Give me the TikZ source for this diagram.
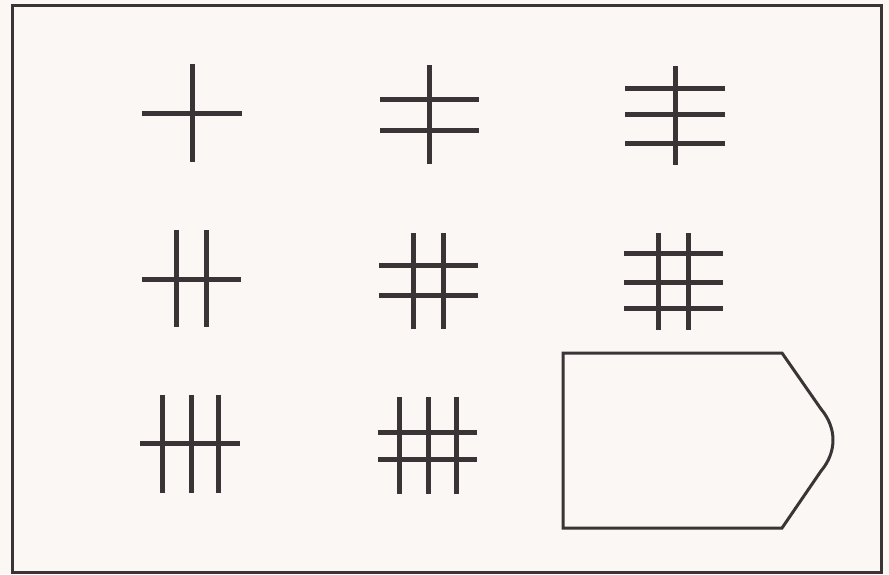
\documentclass[tikz,border=0pt]{standalone}
\begin{document}
\begin{tikzpicture}[x=1pt,y=-1pt,
  ink/.style={draw=inkc},
  bar/.style={ink,line width=5pt},
  frame/.style={ink,line width=3pt},
  outline/.style={ink,line width=3pt,line join=miter}]
\definecolor{inkc}{HTML}{3A3436}
\definecolor{paper}{HTML}{FBF7F4}
\fill[paper] (0,0) rectangle (889,574);
\useasboundingbox (0,0) rectangle (889,574);
\draw[frame] (12,5) rectangle (881,572);
% 1
\draw[bar] (192,64) -- (192,162);
\draw[bar] (142,113) -- (242,113);
% 2
\draw[bar] (429,65) -- (429,164);
\foreach \y in {99,130} \draw[bar] (380,\y) -- (479,\y);
% 3
\draw[bar] (675,66) -- (675,165);
\foreach \y in {88,114,143} \draw[bar] (625,\y) -- (725,\y);
% 4
\foreach \x in {176,206} \draw[bar] (\x,230) -- (\x,327);
\draw[bar] (142,279) -- (241,279);
% 5
\foreach \x in {413,443} \draw[bar] (\x,233) -- (\x,329);
\foreach \y in {265,295} \draw[bar] (379,\y) -- (478,\y);
% 6
\foreach \x in {658,688} \draw[bar] (\x,233) -- (\x,330);
\foreach \y in {253,282,308} \draw[bar] (624,\y) -- (723,\y);
% 7
\foreach \x in {162,191,218} \draw[bar] (\x,395) -- (\x,493);
\draw[bar] (140,443) -- (240,443);
% 8
\foreach \x in {399,428,456} \draw[bar] (\x,397) -- (\x,494);
\foreach \y in {432,459} \draw[bar] (378,\y) -- (477,\y);
% shape
\draw[outline] (563,353) -- (782,353) -- (821,409)
  .. controls (837,428) and (837,452) .. (821,471)
  -- (782,528) -- (563,528) -- cycle;
\end{tikzpicture}
\end{document}
